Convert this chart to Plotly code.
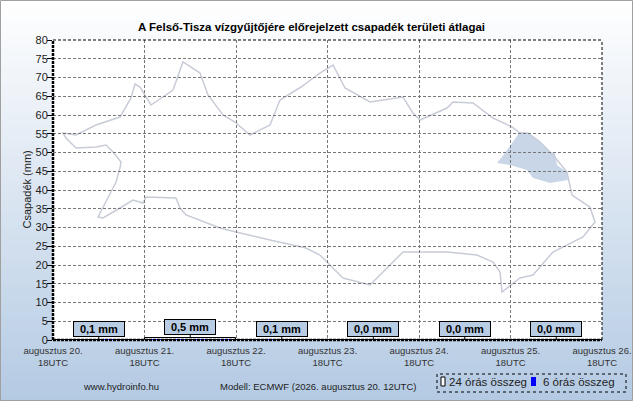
import plotly.graph_objects as go

# ---- data ----
day_labels = ["augusztus 20.", "augusztus 21.", "augusztus 22.", "augusztus 23.",
              "augusztus 24.", "augusztus 25.", "augusztus 26."]
tick_hours = [0, 24, 48, 72, 96, 120, 144]
daily_centers = [12, 36, 60, 84, 108, 132]
daily_totals = [0.1, 0.5, 0.1, 0.0, 0.0, 0.0]
daily_text = ["0,1 mm", "0,5 mm", "0,1 mm", "0,0 mm", "0,0 mm", "0,0 mm"]
six_hour_centers = [3 + 6 * i for i in range(24)]
six_hour_totals = [0.0, 0.0, 0.1, 0.0,
                   0.1, 0.2, 0.1, 0.1,
                   0.0, 0.1, 0.0, 0.0,
                   0.0, 0.0, 0.0, 0.0,
                   0.0, 0.0, 0.0, 0.0,
                   0.0, 0.0, 0.0, 0.0]
y_ticks = list(range(0, 85, 5))

# decorative background map (rough outline of the catchment, in page pixels)
map_outline = [(63, 133), (76, 135), (96, 125), (120, 117), (131, 98), (135, 84), (140, 87),
               (151, 105), (173, 90), (183, 62), (200, 73), (208, 95), (223, 115), (235, 122),
               (250, 135), (270, 125), (280, 100), (301, 87), (320, 73), (333, 65), (345, 88),
               (370, 102), (403, 97), (413, 113), (420, 120), (447, 108), (453, 102), (473, 103),
               (493, 118), (512, 127), (520, 133), (528, 133), (540, 142), (553, 155), (567, 172),
               (572, 195), (590, 207), (595, 222), (583, 237), (553, 252), (533, 275), (520, 278),
               (502, 292), (500, 272), (493, 262), (477, 255), (447, 252), (420, 252), (403, 252),
               (383, 272), (370, 285), (343, 278), (320, 255), (306, 248), (270, 240), (236, 232),
               (220, 228), (186, 215), (180, 208), (176, 198), (146, 197), (143, 203), (133, 200),
               (120, 208), (103, 218), (98, 217), (113, 188), (116, 182), (120, 168), (121, 162),
               (113, 152), (106, 145), (96, 147), (76, 148), (73, 145), (66, 138)]
map_highlight = [(512, 143), (520, 132), (528, 133), (540, 142), (550, 152), (555, 153),
                 (557, 165), (567, 172), (568, 180), (550, 183), (533, 178), (527, 170),
                 (510, 165), (497, 163), (505, 153)]

W, H = 633, 401
L, R, T, B = 53, 31, 40, 61
PW, PH = W - L - R, H - T - B


def px(x):
    return (x - L) / PW


def py(y):
    return (H - B - y) / PH


def path_of(pts):
    return "M " + " L ".join("%.4f,%.4f" % (px(a), py(b)) for a, b in pts) + " Z"


FONT = "Liberation Sans, Arial, sans-serif"

fig = go.Figure()
fig.add_trace(go.Bar(x=daily_centers, y=daily_totals, width=24,
                     marker=dict(color="white", line=dict(color="black", width=1)),
                     showlegend=False, hoverinfo="skip"))
fig.add_trace(go.Bar(x=six_hour_centers, y=six_hour_totals, width=3,
                     marker=dict(color="#0000ff", line=dict(width=0)),
                     showlegend=False, hoverinfo="skip"))

shapes = []
# background gradient stripes (paper)
n = 80
top = (255, 255, 255)
bot = (180, 202, 227)
for i in range(n):
    t = (i + 0.5) / n
    c = tuple(int(round(top[k] + (bot[k] - top[k]) * t)) for k in range(3))
    y0 = i * H / n
    y1 = (i + 1) * H / n + 0.6
    shapes.append(dict(type="rect", xref="paper", yref="paper", layer="below",
                       x0=px(0), x1=px(W), y0=py(y1), y1=py(y0),
                       fillcolor="rgb(%d,%d,%d)" % c, line=dict(width=0)))
# white plot area
shapes.append(dict(type="rect", xref="paper", yref="paper", layer="below",
                   x0=0, x1=1, y0=0, y1=1, fillcolor="white", line=dict(width=0)))
# background map
shapes.append(dict(type="path", xref="paper", yref="paper", layer="below",
                   path=path_of(map_highlight), fillcolor="#c9d6e8", line=dict(width=0)))
shapes.append(dict(type="path", xref="paper", yref="paper", layer="below",
                   path=path_of(map_outline), line=dict(color="#c8ccd8", width=1.5)))
# outer border
shapes.append(dict(type="rect", xref="paper", yref="paper",
                   x0=px(0.5), x1=px(W - 0.5), y0=py(H - 0.5), y1=py(0.5),
                   line=dict(color="#a0a0a0", width=1)))
# plot frame
shapes.append(dict(type="line", xref="paper", yref="paper", x0=0, x1=1, y0=1, y1=1,
                   line=dict(color="black", width=1, dash="3px,2px")))
shapes.append(dict(type="line", xref="paper", yref="paper", x0=1, x1=1, y0=0, y1=1,
                   line=dict(color="black", width=1, dash="3px,2px")))
shapes.append(dict(type="line", xref="paper", yref="paper", x0=0, x1=0, y0=0, y1=1,
                   line=dict(color="black", width=2.5, dash="3px,1px")))
shapes.append(dict(type="line", xref="paper", yref="paper", x0=0, x1=1, y0=0, y1=0,
                   line=dict(color="black", width=2.5, dash="3px,1px")))
# legend box & markers
shapes.append(dict(type="rect", xref="paper", yref="paper",
                   x0=px(437), x1=px(626), y0=py(392), y1=py(374),
                   line=dict(color="black", width=1, dash="dot")))
shapes.append(dict(type="rect", xref="paper", yref="paper",
                   x0=px(441), x1=px(445), y0=py(386), y1=py(377),
                   fillcolor="white", line=dict(color="black", width=1)))
shapes.append(dict(type="rect", xref="paper", yref="paper",
                   x0=px(531), x1=px(536), y0=py(386), y1=py(377),
                   fillcolor="#0000ff", line=dict(width=0)))

annotations = []
for xc, v, txt in zip(daily_centers, daily_totals, daily_text):
    annotations.append(dict(x=xc, y=v, xref="x", yref="y", text="<b>%s</b>" % txt,
                            showarrow=True, arrowhead=0, arrowwidth=1, arrowcolor="black",
                            ax=0, ay=-11, bgcolor="#b8cce4", bordercolor="black",
                            borderwidth=1, borderpad=1, width=48, height=12,
                            font=dict(family=FONT, size=11, color="black")))
annotations += [
    dict(x=px(311), y=py(27), xref="paper", yref="paper", showarrow=False,
         yanchor="middle",
         text="<b>A Felső-Tisza vízgyűjtőjére előrejelzett csapadék területi átlagai</b>",
         font=dict(family=FONT, size=11.5, color="black")),
    dict(x=px(26.5), y=0.5, xref="paper", yref="paper", showarrow=False,
         xanchor="center", yanchor="middle", textangle=-90,
         text="Csapadék (mm)", font=dict(family=FONT, size=11, color="#222")),
    dict(x=px(81), y=py(386), xref="paper", yref="paper", showarrow=False,
         yanchor="middle",
         text="www.hydroinfo.hu", font=dict(family=FONT, size=9.5, color="#222")),
    dict(x=px(318), y=py(386), xref="paper", yref="paper", showarrow=False,
         yanchor="middle",
         text="Modell: ECMWF (2026. augusztus 20. 12UTC)",
         font=dict(family=FONT, size=9.5, color="#222")),
    dict(x=px(447), y=py(382), xref="paper", yref="paper", showarrow=False,
         xanchor="left", yanchor="middle",
         text="24 órás összeg", font=dict(family=FONT, size=11.5, color="#222")),
    dict(x=px(541), y=py(382), xref="paper", yref="paper", showarrow=False,
         xanchor="left", yanchor="middle",
         text="6 órás összeg", font=dict(family=FONT, size=11.5, color="#222")),
]

fig.update_layout(
    width=W, height=H, autosize=False, margin=dict(l=L, r=R, t=T, b=B, pad=0),
    paper_bgcolor="rgba(0,0,0,0)", plot_bgcolor="rgba(0,0,0,0)",
    barmode="overlay", bargap=0,
    font=dict(family=FONT, size=11, color="#222"),
    shapes=shapes, annotations=annotations,
    xaxis=dict(range=[0, 144], tickvals=tick_hours,
               ticktext=["%s<br>18UTC" % d for d in day_labels],
               showgrid=True, gridcolor="#777", griddash="3px,2px", gridwidth=1,
               zeroline=False, showline=False, ticks="", fixedrange=True,
               ticklabelstandoff=3, automargin=False,
               tickfont=dict(family=FONT, size=9.5, color="#333")),
    yaxis=dict(range=[0, 80], tickvals=y_ticks, showgrid=True, gridcolor="#777",
               griddash="3px,2px", gridwidth=1, zeroline=False, showline=False,
               ticks="outside", ticklen=5, tickcolor="black", fixedrange=True,
               automargin=False, ticklabelstandoff=-3,
               tickfont=dict(family=FONT, size=11, color="#222")),
)
fig.write_html("out.html", config={"displayModeBar": False, "responsive": False},
               post_script="document.documentElement.style.overflow='hidden';"
                           "document.body.style.margin='0';document.body.style.overflow='hidden';")
